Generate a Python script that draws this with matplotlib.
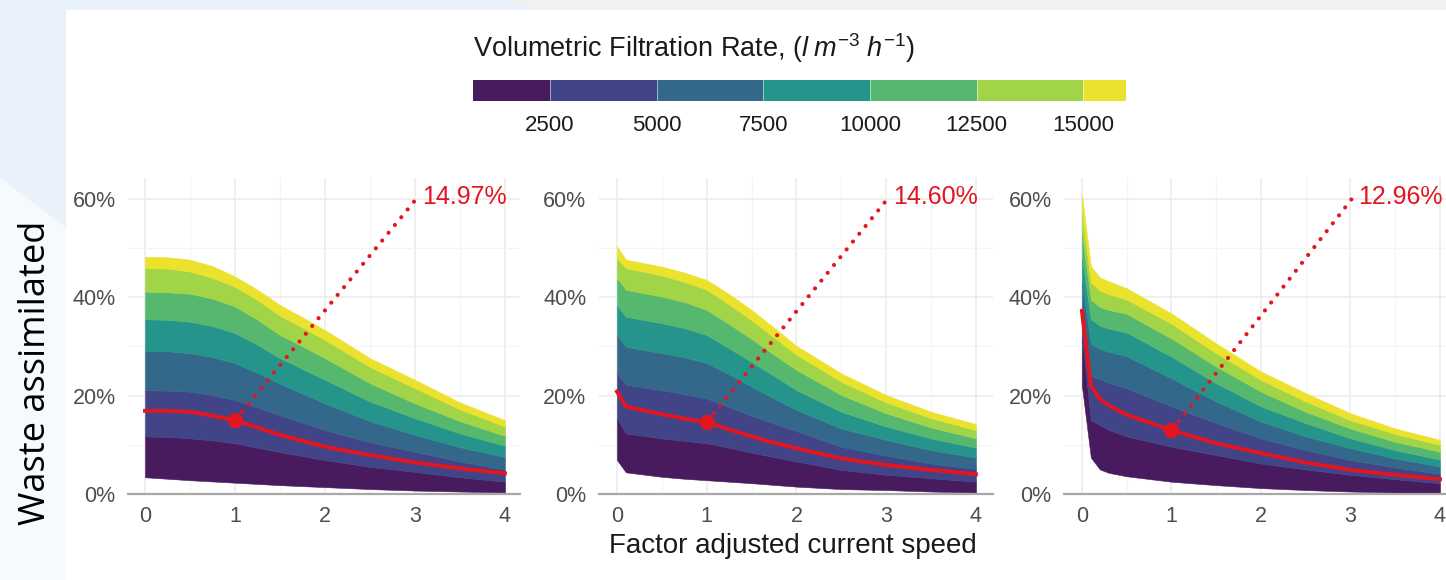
import matplotlib
matplotlib.use("Agg")
import matplotlib.pyplot as plt
from matplotlib.colors import ListedColormap, BoundaryNorm
from matplotlib.cm import ScalarMappable
from matplotlib.patches import Polygon

plt.rcParams['font.family'] = ['Liberation Sans', 'DejaVu Sans']
plt.rcParams['mathtext.fontset'] = 'custom'
plt.rcParams['mathtext.rm'] = 'Liberation Sans'
plt.rcParams['mathtext.it'] = 'Liberation Sans:italic'

# filtration-rate classes (legend)
rate_bounds = [700, 2500, 5000, 7500, 10000, 12500, 15000, 16000]
rate_ticks = [2500, 5000, 7500, 10000, 12500, 15000]
band_colors = ['#481a5e', '#414487', '#33688b', '#25948a', '#55b86e', '#a2d448', '#eae22c']

# panel 1: band edges (bottom -> top), % waste assimilated
speed_1 = [0, 0.25, 0.5, 0.75, 1, 1.25, 1.5, 1.75, 2, 2.5, 3, 3.5, 4]
edges_1 = [
    [3.4, 3.1, 2.8, 2.55, 2.3, 2.05, 1.8, 1.6, 1.4, 1.0, 0.7, 0.5, 0.3],
    [11.7, 11.6, 11.3, 10.9, 10.3, 9.4, 8.5, 7.7, 6.9, 5.5, 4.5, 3.4, 2.5],
    [21.1, 21.0, 20.8, 20.1, 19.1, 17.6, 16.0, 14.5, 13.0, 10.5, 8.6, 6.6, 4.9],
    [29.1, 29.0, 28.6, 27.8, 26.6, 24.6, 22.4, 20.4, 18.4, 14.8, 12.0, 9.5, 7.5],
    [35.5, 35.4, 35.0, 34.1, 32.7, 30.3, 27.6, 25.4, 23.2, 18.8, 15.4, 12.3, 9.8],
    [41.1, 41.0, 40.7, 39.7, 38.1, 35.4, 32.3, 30.0, 27.6, 22.5, 18.4, 14.8, 11.8],
    [45.9, 45.8, 45.2, 43.9, 42.1, 39.4, 36.2, 33.8, 31.3, 25.8, 21.5, 17.2, 13.7],
    [48.2, 48.1, 47.6, 46.3, 44.2, 41.5, 38.4, 35.9, 33.3, 27.6, 23.2, 18.6, 15.0],
]
mean_1 = [16.9, 16.9, 16.7, 15.9, 14.97, 13.5, 12.0, 10.8, 9.6, 7.9, 6.4, 5.2, 4.2]

# panel 2
speed_2 = [0, 0.1, 0.5, 0.75, 1, 1.25, 1.5, 1.75, 2, 2.5, 3, 3.5, 4]
edges_2 = [
    [6.9, 4.4, 3.5, 3.1, 2.8, 2.5, 2.2, 1.85, 1.5, 1.0, 0.8, 0.5, 0.3],
    [15.4, 12.3, 11.3, 10.8, 10.3, 9.4, 8.4, 7.5, 6.6, 4.9, 3.9, 3.2, 2.5],
    [24.5, 22.2, 21.1, 20.3, 19.4, 17.7, 15.9, 14.3, 12.8, 9.6, 7.8, 6.2, 5.1],
    [32.3, 29.9, 28.6, 27.8, 26.6, 24.3, 21.8, 19.4, 17.1, 13.3, 11.0, 8.9, 7.4],
    [38.3, 36.0, 34.7, 33.7, 32.3, 29.6, 26.8, 24.0, 21.1, 16.7, 13.7, 11.3, 9.4],
    [43.8, 41.5, 40.1, 39.0, 37.4, 34.5, 31.5, 28.3, 25.2, 20.1, 16.4, 13.5, 11.3],
    [47.9, 45.9, 44.4, 43.1, 41.5, 38.5, 35.3, 31.8, 28.3, 22.8, 18.6, 15.4, 13.0],
    [50.3, 47.6, 46.2, 45.0, 43.5, 40.6, 37.4, 33.8, 30.1, 24.5, 20.1, 16.7, 14.2],
]
mean_2 = [20.8, 17.8, 16.2, 15.3, 14.60, 13.1, 11.7, 10.4, 9.3, 7.2, 5.9, 4.9, 4.0]

# panel 3
speed_3 = [0, 0.1, 0.2, 0.3, 0.5, 1, 1.5, 2, 2.5, 3, 3.5, 4]
edges_3 = [
    [22.0, 7.4, 5.0, 4.3, 3.6, 2.5, 1.8, 1.2, 0.8, 0.5, 0.3, 0.1],
    [32.0, 15.0, 14.0, 13.0, 11.7, 9.6, 7.9, 6.2, 5.0, 3.9, 3.0, 2.2],
    [37.5, 24.0, 23.3, 22.6, 21.5, 17.8, 14.4, 11.3, 8.9, 6.9, 5.4, 4.1],
    [43.0, 30.5, 29.5, 28.9, 28.0, 23.5, 18.8, 14.7, 11.7, 9.3, 7.2, 5.6],
    [48.0, 35.5, 34.2, 33.6, 32.8, 27.9, 22.5, 17.8, 14.4, 11.3, 8.9, 7.0],
    [53.0, 39.5, 38.0, 37.4, 36.6, 31.6, 25.9, 20.8, 16.7, 13.3, 10.6, 8.6],
    [57.0, 43.0, 41.3, 40.6, 39.5, 34.6, 28.6, 23.2, 18.8, 15.0, 12.2, 10.0],
    [60.8, 46.3, 44.0, 43.2, 41.8, 36.7, 30.6, 24.9, 20.5, 16.4, 13.3, 11.0],
]
mean_3 = [37.2, 22.0, 19.3, 18.0, 16.1, 12.96, 10.3, 8.3, 6.4, 4.9, 3.9, 3.0]

assim_at_1 = [14.97, 14.60, 12.96]

W, H = 1446, 580
fig = plt.figure(figsize=(W / 100, H / 100), dpi=100, facecolor='white')


def box(x0, y0, x1, y1):
    return [x0 / W, 1 - y1 / H, (x1 - x0) / W, (y1 - y0) / H]


def poly(pts, color):
    p = Polygon([(x / W, 1 - y / H) for x, y in pts], closed=True,
                transform=fig.transFigure, facecolor=color, edgecolor='none', zorder=-10)
    fig.patches.append(p)


# slide background around the chart
poly([(0, 0), (505, 0), (535, 10), (66, 10), (66, 228), (0, 178)], '#e9f2fa')
poly([(505, 0), (W, 0), (W, 10), (535, 10)], '#f0f1f3')
poly([(0, 178), (66, 228), (66, H), (0, H)], '#f7fafc')

red = '#e3161f'
txt_grey = '#4d4d4d'

panels = [
    (speed_1, edges_1, mean_1, (128, 520), (-0.189, 4.167)),
    (speed_2, edges_2, mean_2, (599, 993), (-0.2, 4.19)),
    (speed_3, edges_3, mean_3, (1064, 1457), (-0.2, 4.19)),
]

for k, (xs, edges, mean, (l, r), xl) in enumerate(panels):
    ax = fig.add_axes(box(l, 178, r, 494))
    ax.set_facecolor('white')
    for i in range(7):
        ax.fill_between(xs, edges[i], edges[i + 1], color=band_colors[i],
                        lw=0.4, edgecolor=band_colors[i], zorder=2)
    ax.plot(xs, mean, color=red, lw=2.8, zorder=3, solid_joinstyle='round')
    v = assim_at_1[k]
    ax.plot([1], [v], 'o', color=red, ms=10, zorder=4)
    ax.plot([1.08, 3.03], [v + 1.8, 60.3], color=red, lw=3.0,
            ls=(0, (0.01, 2.4)), dash_capstyle='round', zorder=4)
    ax.text(3.08, 60.3, f"{v:.2f}%", color=red, fontsize=18, va='center',
            ha='left', zorder=5, clip_on=False)

    ax.set_xlim(*xl)
    ax.set_ylim(0, 64.2)
    ax.set_xticks([0, 1, 2, 3, 4])
    ax.set_xticks([0.5, 1.5, 2.5, 3.5], minor=True)
    ax.set_yticks([0, 20, 40, 60])
    ax.set_yticks([10, 30, 50], minor=True)
    ax.set_yticklabels(['0%', '20%', '40%', '60%'])
    ax.grid(True, which='major', color='#ebebeb', lw=1.1, zorder=0)
    ax.grid(True, which='minor', color='#f4f4f4', lw=0.8, zorder=0)
    ax.set_axisbelow(True)
    ax.tick_params(which='both', length=0, labelsize=15.5, labelcolor=txt_grey)
    ax.tick_params(axis='y', pad=9)
    ax.tick_params(axis='x', pad=9)
    for s in ['left', 'top', 'right']:
        ax.spines[s].set_visible(False)
    ax.spines['bottom'].set_color('#a8a8a8')
    ax.spines['bottom'].set_linewidth(1.6)

# legend colour steps
cax = fig.add_axes(box(473, 80, 1126, 101))
norm = BoundaryNorm(rate_bounds, 7)
cb = fig.colorbar(ScalarMappable(norm=norm, cmap=ListedColormap(band_colors)),
                  cax=cax, orientation='horizontal', ticks=rate_ticks, spacing='proportional')
cb.outline.set_visible(False)
cb.minorticks_off()
cax.tick_params(which='both', length=0, labelsize=16, labelcolor='#1a1a1a', pad=10)
for b in rate_ticks:
    cax.axvline(b, color='white', lw=0.6, alpha=0.6)

fig.text(473 / W, 1 - 57 / H, r"Volumetric Filtration Rate, ($l\;m^{-3}\;h^{-1}$)",
         fontsize=19.5, color='#1a1a1a', ha='left', va='baseline')

fig.text(793 / W, 1 - 546 / H, "Factor adjusted current speed", fontsize=20,
         color='#1a1a1a', ha='center', va='center')
fig.text(36 / W, 1 - 373 / H, "Waste assimilated", fontsize=26, rotation=90,
         family=['Open Sans', 'DejaVu Sans'], color='black', ha='center', va='center')

fig.savefig('out.png', dpi=100, facecolor=fig.get_facecolor())
